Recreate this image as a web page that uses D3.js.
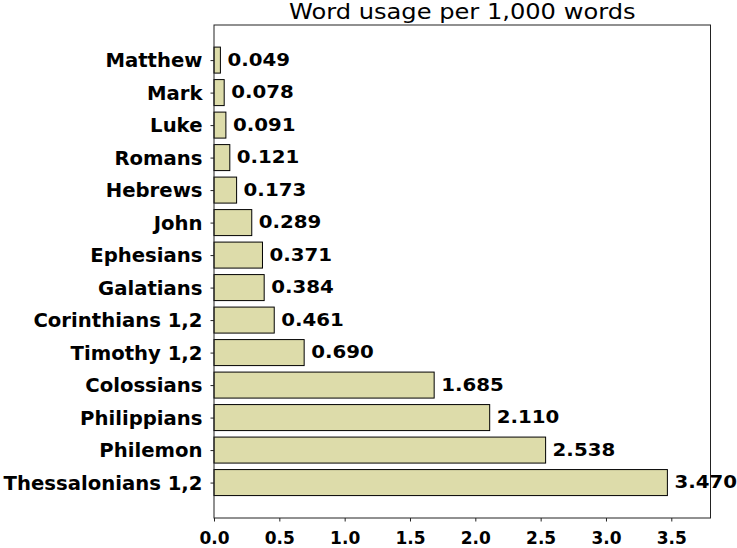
<!DOCTYPE html>
<html>
<head>
<meta charset="utf-8">
<script src="https://cdn.jsdelivr.net/npm/d3@7"></script>
<style>
  html, body { margin: 0; padding: 0; background: #fff; }
  svg { display: block; }
  text { font-family: "DejaVu Sans", Verdana, sans-serif; fill: #000; }
</style>
</head>
<body>
<svg id="chart" width="737" height="548"></svg>
<script>
const categories = ["Matthew", "Mark", "Luke", "Romans", "Hebrews", "John", "Ephesians",
  "Galatians", "Corinthians 1,2", "Timothy 1,2", "Colossians", "Philippians", "Philemon",
  "Thessalonians 1,2"];
const values = [0.049, 0.078, 0.091, 0.121, 0.173, 0.289, 0.371, 0.384, 0.461, 0.690,
  1.685, 2.110, 2.538, 3.470];
const xTicks = [0.0, 0.5, 1.0, 1.5, 2.0, 2.5, 3.0, 3.5];
const title = "Word usage per 1,000 words";

(function () {
const svg = d3.select("#chart");
const pLeft = 214, pRight = 710.5, pTop = 25, pBottom = 518;

const x = d3.scaleLinear().domain([0, 3.8]).range([pLeft, pRight]);
const y = d3.scaleLinear().domain([-1.08, categories.length - 1 + 1.09]).range([pTop, pBottom]);
const step = y(1) - y(0);
const barH = step * 0.8;

// bars
svg.append("g").selectAll("rect")
  .data(values)
  .join("rect")
  .attr("x", x(0))
  .attr("y", (d, i) => y(i) - barH / 2)
  .attr("width", d => x(d) - x(0))
  .attr("height", barH)
  .attr("fill", "#dddcaa")
  .attr("stroke", "#000")
  .attr("stroke-width", 1);

// frame
svg.append("rect")
  .attr("x", pLeft).attr("y", pTop)
  .attr("width", pRight - pLeft).attr("height", pBottom - pTop)
  .attr("fill", "none").attr("stroke", "#222").attr("stroke-width", 1);

// x axis
const xAxis = d3.axisBottom(x).tickValues(xTicks).tickFormat(d3.format(".1f"))
  .tickSize(3.5).tickPadding(10);
const gx = svg.append("g").attr("transform", `translate(0,${pBottom})`).call(xAxis);
gx.select(".domain").remove();
gx.selectAll("line").attr("stroke", "#222");
gx.selectAll("text").attr("font-size", 17).attr("font-weight", "bold")
  .attr("font-family", "DejaVu Sans, Verdana, sans-serif").attr("fill", "#000");

// y axis
const sy = 1.035;
const yAxis = d3.axisLeft(y).tickValues(d3.range(categories.length))
  .tickFormat(i => categories[i]).tickSize(3.5).tickPadding(8);
const gy = svg.append("g").attr("transform", `translate(${pLeft},0)`).call(yAxis);
gy.select(".domain").remove();
gy.selectAll("line").attr("stroke", "#222");
gy.selectAll("text").attr("font-size", 19).attr("font-weight", "bold")
  .attr("font-family", "DejaVu Sans, Verdana, sans-serif").attr("fill", "#000")
  .attr("dy", "0.34em")
  .attr("x", -11.5 / sy)
  .attr("transform", `scale(${sy},1)`);

// value labels
svg.append("g").selectAll("text")
  .data(values)
  .join("text")
  .attr("transform", (d, i) => `translate(${x(d) + 7},${y(i)}) scale(1.07,1)`)
  .attr("dy", "0.3em")
  .attr("font-size", 18.5)
  .attr("font-weight", "bold")
  .text(d => d3.format(".3f")(d));

// title
svg.append("text")
  .attr("transform", `translate(${(pLeft + pRight) / 2},19) scale(1.15,1)`)
  .attr("text-anchor", "middle")
  .attr("font-size", 21)
  .text(title);
})();
</script>
</body>
</html>
